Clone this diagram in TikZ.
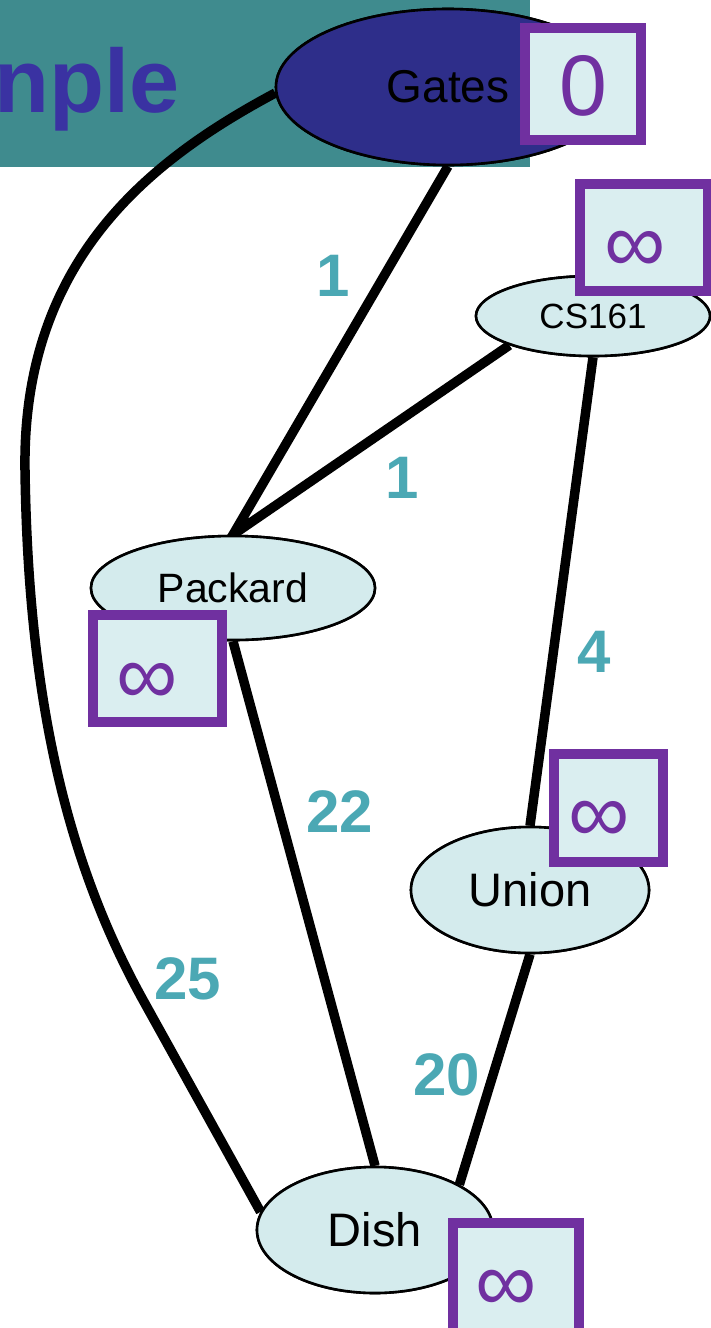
\documentclass[tikz,border=0pt]{standalone}
\usepackage{fontspec}
\setmainfont{Liberation Sans}
\usetikzlibrary{shapes.geometric}
\definecolor{band}{RGB}{63,139,142}
\definecolor{titleblue}{RGB}{58,50,162}
\definecolor{sourcefill}{RGB}{46,46,138}
\definecolor{nodefill}{RGB}{212,235,237}
\definecolor{boxfill}{RGB}{218,238,240}
\definecolor{valpurple}{RGB}{112,48,160}
\definecolor{weightteal}{RGB}{75,168,180}
\begin{document}
\begin{tikzpicture}[x=1pt,y=-1pt,
  place/.style={ellipse, draw=black, line width=2.6pt, fill=nodefill, inner sep=0pt, text=black},
  valbox/.style={rectangle, draw=valpurple, line width=10pt, fill=boxfill, inner sep=0pt},
  valtext/.style={text=valpurple, font=\fontsize{86}{90}\selectfont, inner sep=0pt},
  weight/.style={text=weightteal, font=\fontsize{60}{64}\selectfont\bfseries, inner sep=0pt},
  edge/.style={line width=9.5pt, black, line join=miter}]
\useasboundingbox (0,0) rectangle (711,1328);
\begin{scope}
\clip (0,0) rectangle (711,1328);
% title band
\fill[band] (0,0) rectangle (530,167);
\node[anchor=base east, inner sep=0pt, text=titleblue,
      font=\fontsize{90}{94}\selectfont\bfseries] (title) at (180,112) {nple};

% vertex positions (named before the edges are drawn)
\node[place, fill=sourcefill, minimum width=344pt, minimum height=156pt] (gates) at (448,87) {};
\node[place, minimum width=234pt, minimum height=80pt] (cs) at (593,316) {};
\node[place, minimum width=284pt, minimum height=104pt] (packard) at (233,588) {};
\node[place, minimum width=238pt, minimum height=126pt] (union) at (530,890) {};
\node[place, minimum width=236pt, minimum height=126pt] (dish) at (375,1230) {};

% turning points of the long Gates--Dish edge
\coordinate (bend) at (25,470);
\coordinate (low) at (143,1000);

% edges
\draw[edge] (gates.182) .. controls (150,160) and (22,260) .. (bend)
            .. controls (28,680) and (60,850) .. (low) -- (dish.171);
\draw[edge] (gates.south) -- (packard.north) -- (cs.south west);
\draw[edge] (cs.south) -- (union.north);
\draw[edge] (packard.south) -- (dish.north);
\draw[edge] (union.south) -- (dish.north east);

% vertices on top of the edges
\node[place, fill=sourcefill, minimum width=344pt, minimum height=156pt,
      font=\fontsize{46}{50}\selectfont] at (gates) {Gates};
\node[place, minimum width=234pt, minimum height=80pt,
      font=\fontsize{35}{38}\selectfont] at (cs) {CS161};
\node[place, minimum width=284pt, minimum height=104pt,
      font=\fontsize{41}{44}\selectfont] at (packard) {Packard};
\node[place, minimum width=238pt, minimum height=126pt,
      font=\fontsize{47}{50}\selectfont] at (union) {Union};
\node[place, minimum width=236pt, minimum height=126pt,
      font=\fontsize{47}{50}\selectfont] at (dish) {Dish};

% distance boxes
\node[valbox, minimum width=116pt, minimum height=112pt] (dgates) at (583,84) {};
\node[valtext] at ([shift={(0,2)}]dgates.center) {0};
\node[valbox, minimum width=128pt, minimum height=107pt] (dcs) at (644,237.5) {};
\node[valtext] at ([shift={(-9,14)}]dcs.center) {∞};
\node[valbox, minimum width=129pt, minimum height=107pt] (dpackard) at (157.5,668.5) {};
\node[valtext] at ([shift={(-10,15)}]dpackard.center) {∞};
\node[valbox, minimum width=109pt, minimum height=108pt] (dunion) at (608.5,808) {};
\node[valtext] at ([shift={(-9,14)}]dunion.center) {∞};
\node[valbox, minimum width=126pt, minimum height=112pt] (ddish) at (516,1279) {};
\node[valtext] at ([shift={(-10,12)}]ddish.center) {∞};

% edge weights
\node[weight] (wgp) at (333,276) {1};
\node[weight] (wcp) at (402,478) {1};
\node[weight] (wcu) at (594,652) {4};
\node[weight] (wpd) at (340,812) {22};
\node[weight] (wgd) at (188,979) {25};
\node[weight] (wud) at (447,1075) {20};
\end{scope}
\end{tikzpicture}
\end{document}
